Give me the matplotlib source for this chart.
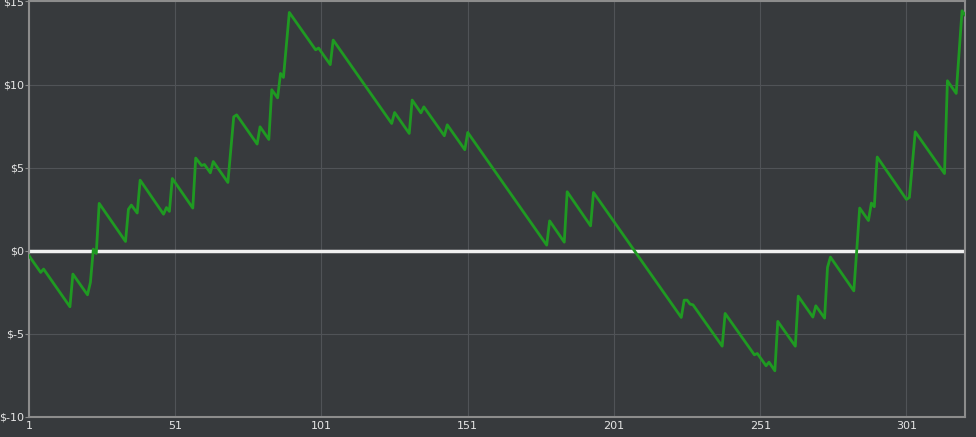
import matplotlib
matplotlib.use("Agg")
import matplotlib.pyplot as plt

# Cumulative profit, vertices of the equity curve (trade number, dollars)
trade = [1, 5, 6, 15, 16, 21, 22, 23, 24, 25, 34, 35, 36, 38, 39, 47, 48, 49, 50,
         57, 58, 60, 61, 63, 64, 69, 71, 72, 79, 80, 83, 84, 86, 87, 88, 90, 99, 100,
         104, 105, 125, 126, 131, 132, 135, 136, 143, 144, 150, 151, 178, 179, 184,
         185, 193, 194, 224, 225, 226, 227, 228, 238, 239, 249, 250, 253, 254, 256,
         257, 263, 264, 269, 270, 273, 274, 275, 283, 284, 285, 288, 289, 290, 291,
         301, 302, 304, 314, 315, 318, 320, 321]
profit = [-0.3, -1.3, -1.1, -3.37, -1.4, -2.65, -1.9, 0.1, -0.16, 2.85, 0.56, 2.5,
          2.75, 2.27, 4.25, 2.2, 2.6, 2.37, 4.35, 2.57, 5.58, 5.13, 5.19, 4.69, 5.37,
          4.11, 8.06, 8.18, 6.42, 7.46, 6.7, 9.69, 9.2, 10.67, 10.43, 14.34, 12.09,
          12.2, 11.2, 12.68, 7.66, 8.32, 7.06, 9.07, 8.3, 8.66, 6.92, 7.58, 6.08,
          7.12, 0.34, 1.8, 0.52, 3.55, 1.5, 3.51, -4.01, -2.97, -2.97, -3.21, -3.25,
          -5.74, -3.77, -6.26, -6.18, -6.92, -6.7, -7.22, -4.25, -5.74, -2.73, -3.99,
          -3.31, -4.05, -1.0, -0.38, -2.41, 0.04, 2.57, 1.82, 2.87, 2.65, 5.64, 3.09,
          3.21, 7.16, 4.65, 10.23, 9.47, 14.44, 14.2]

x_ticks = [1, 51, 101, 151, 201, 251, 301]
y_ticks = [-10, -5, 0, 5, 10, 15]
y_labels = ["$-10", "$-5", "$0", "$5", "$10", "$15"]

bg = "#373a3d"
fig = plt.figure(figsize=(9.76, 4.37), dpi=100, facecolor=bg)
ax = fig.add_axes([0.0297, 0.0458, 0.959, 0.9508])
ax.set_facecolor(bg)

ax.plot(trade, profit, color="#1f9a22", linewidth=2, zorder=3)
ax.axhline(0, color="#f0f0f0", linewidth=2.5, zorder=2)

ax.set_xlim(1, 321)
ax.set_ylim(-10, 15)
ax.set_xticks(x_ticks)
ax.set_yticks(y_ticks)
ax.set_yticklabels(y_labels)
ax.grid(True, color="#505357", linewidth=0.8)
ax.set_axisbelow(True)

for side in ["left", "bottom", "top", "right"]:
    ax.spines[side].set_color("#8c8c8c")
    ax.spines[side].set_linewidth(1.5)

ax.tick_params(axis="both", colors="#e6e6e6", labelsize=8)
ax.tick_params(axis="y", length=3, color="#8c8c8c", pad=0.5)
ax.tick_params(axis="x", length=0, pad=3)

fig.savefig("out.png", dpi=100, facecolor=bg)
